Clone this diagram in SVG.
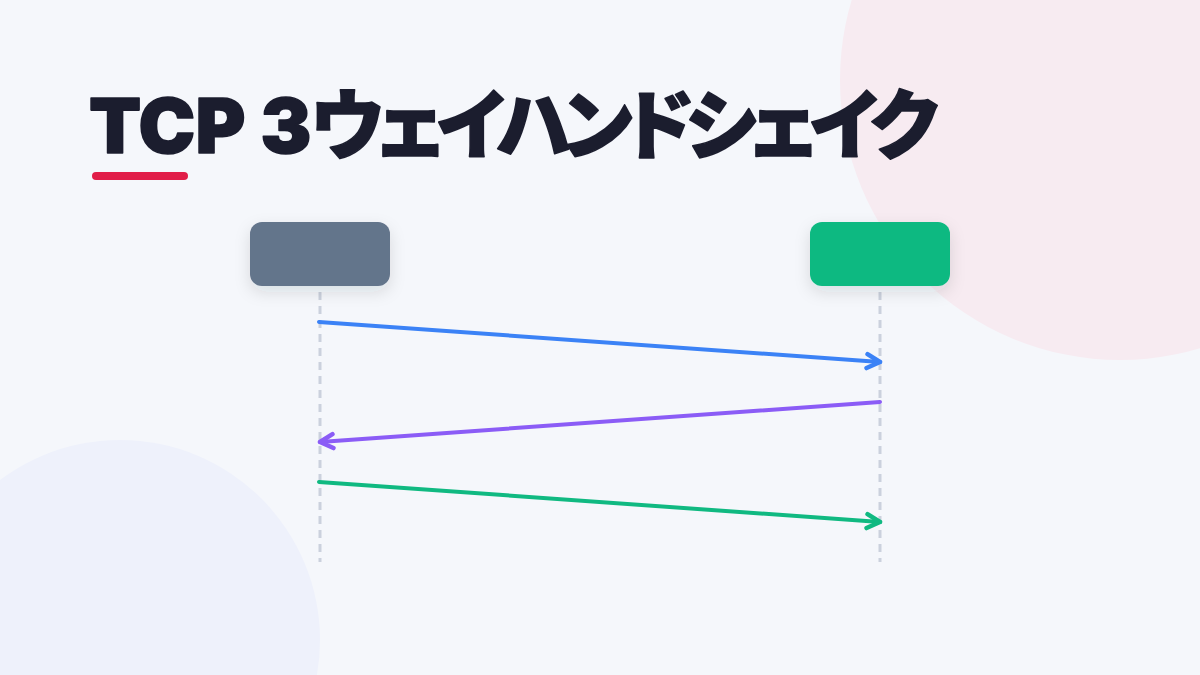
<svg xmlns="http://www.w3.org/2000/svg" width="1200" height="675" viewBox="0 0 1200 675">
<defs>
<style>
.title{font-family:Inter,"Noto Sans CJK JP","Noto Sans",sans-serif;font-weight:900;font-size:76px;fill:#1b1d2e;stroke:#1b1d2e;stroke-width:1.6;stroke-linejoin:round;font-feature-settings:"palt";}
.kana{letter-spacing:-6.8px;}
.life{stroke:#cbd1dd;stroke-width:3;stroke-dasharray:8 6;fill:none;}
.msg{fill:none;stroke-width:4;stroke-linecap:round;stroke-linejoin:round;}
</style>
<filter id="sh" x="-30%" y="-30%" width="160%" height="180%">
<feDropShadow dx="0" dy="6" stdDeviation="8" flood-color="#1e293b" flood-opacity="0.12"/>
</filter>
<marker id="ab" viewBox="0 0 20 20" refX="17" refY="10" markerWidth="20" markerHeight="20" markerUnits="userSpaceOnUse" orient="auto">
<path d="M4,3 L17,10 L4,17" fill="none" stroke="#3b82f6" stroke-width="4.5" stroke-linecap="round" stroke-linejoin="round"/>
</marker>
<marker id="ap" viewBox="0 0 20 20" refX="17" refY="10" markerWidth="20" markerHeight="20" markerUnits="userSpaceOnUse" orient="auto">
<path d="M4,3 L17,10 L4,17" fill="none" stroke="#8b5cf6" stroke-width="4.5" stroke-linecap="round" stroke-linejoin="round"/>
</marker>
<marker id="ag" viewBox="0 0 20 20" refX="17" refY="10" markerWidth="20" markerHeight="20" markerUnits="userSpaceOnUse" orient="auto">
<path d="M4,3 L17,10 L4,17" fill="none" stroke="#10b981" stroke-width="4.5" stroke-linecap="round" stroke-linejoin="round"/>
</marker>
</defs>
<rect width="1200" height="675" fill="#f5f7fb"/>
<circle cx="1120" cy="80" r="280" fill="#f7ebf1"/>
<circle cx="120" cy="640" r="200" fill="#eef1fb"/>
<g id="title">
<text class="title" x="89" y="153">TCP 3<tspan class="kana">ウェイハンドシェイク</tspan></text>
<rect x="92" y="172" width="96" height="8" rx="4" fill="#e11d48"/>
</g>
<g id="lifelines">
<line class="life" x1="320" y1="292" x2="320" y2="562"/>
<line class="life" x1="880" y1="292" x2="880" y2="562"/>
</g>
<g id="client">
<rect x="250" y="222" width="140" height="64" rx="12" fill="#64748b" filter="url(#sh)"/>
</g>
<g id="server">
<rect x="810" y="222" width="140" height="64" rx="12" fill="#10b981" filter="url(#sh)"/>
</g>
<g id="connectors">
<line class="msg" x1="319" y1="322" x2="880" y2="362" stroke="#3b82f6" marker-end="url(#ab)"/>
<line class="msg" x1="880" y1="402" x2="320" y2="442" stroke="#8b5cf6" marker-end="url(#ap)"/>
<line class="msg" x1="319" y1="482" x2="880" y2="522" stroke="#10b981" marker-end="url(#ag)"/>
</g>
</svg>
